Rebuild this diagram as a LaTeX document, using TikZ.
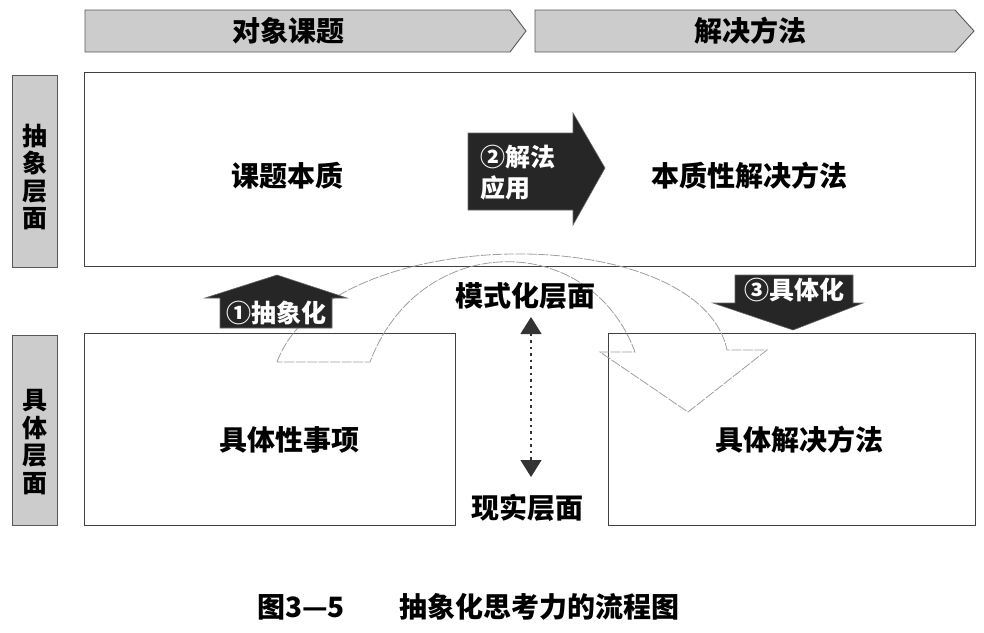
\documentclass[tikz,border=0pt]{standalone}
\usepackage{fontspec}
\setmainfont{Noto Sans CJK SC}
\usetikzlibrary{arrows.meta}
\tikzset{
  hdr/.style={fill=black!20, draw=black!65, line width=0.9pt},
  frame/.style={draw=black!75, line width=0.8pt, inner sep=0pt},
  darrow/.style={fill=black!85, draw=black!60, line width=0.6pt},
  ribbon/.style={draw=black!38, line width=0.8pt, dash pattern=on 10pt off 1.5pt},
  btxt/.style={font=\fontsize{28}{30}\selectfont\bfseries, inner sep=0pt},
  stxt/.style={font=\fontsize{25}{27.5}\selectfont\bfseries, align=center, inner sep=0pt},
  wtxt/.style={text=white, font=\fontsize{25}{31}\selectfont\bfseries, inner sep=0pt},
  vline/.style={draw=black!80, line width=1.2pt, dash pattern=on 2.5pt off 4pt,
     {Triangle[width=21pt,length=17pt]}-{Triangle[width=21pt,length=17pt]}}
}
\begin{document}
\begin{tikzpicture}[x=1pt,y=-1pt]
\useasboundingbox (0,0) rectangle (984,632);
% header arrows
\draw[hdr] (85,10) -- (510,10) -- (526,31) -- (510,52) -- (85,52) -- cycle;
\draw[hdr] (535,10) -- (955,10) -- (974,31) -- (955,52) -- (535,52) -- cycle;
\node[btxt] (h1) at (288,31) {对象课题};
\node[btxt] (h2) at (750,31) {解决方法};
% side labels
\node[hdr, minimum width=45pt, minimum height=192pt, inner sep=0pt] (sb1) at (34.5,171) {};
\node[stxt] (s1) at (34.5,177) {抽\\象\\层\\面};
\node[hdr, minimum width=45pt, minimum height=190pt, inner sep=0pt] (sb2) at (34.5,430) {};
\node[stxt] (s2) at (34.5,442) {具\\体\\层\\面};
% main boxes
\node[frame, minimum width=891pt, minimum height=194pt] (abs) at (529.5,169) {};
\node[frame, minimum width=371pt, minimum height=192pt] (con1) at (269.5,429) {};
\node[frame, minimum width=367pt, minimum height=192pt] (con2) at (791.5,429) {};
% ribbon arch
\draw[ribbon] (277,362) .. controls (330,220) and (700,220) .. (727,350)
   -- (767,350) -- (688,412) -- (600,352) -- (635,352)
   .. controls (590,230) and (420,230) .. (370,362) -- cycle;
% texts
\node[btxt] (t1) at (287,176) {课题本质};
\node[btxt] (t2) at (749,176) {本质性解决方法};
\node[btxt] (t3) at (289,440) {具体性事项};
\node[btxt] (t4) at (799,440) {具体解决方法};
\node[btxt] (t5) at (525,296) {模式化层面};
\node[btxt] (t6) at (527,508) {现实层面};
% vertical double arrow
\coordinate (va) at (531,317);
\coordinate (vb) at (531,477);
\draw[vline] (va) -- (vb);
% dark arrows
\draw[darrow] (220,328) -- (220,298) -- (205,298) -- (277,275) -- (347,298) -- (332,298) -- (332,328) -- cycle;
\node[wtxt] (a1) at (276,313) {①抽象化};
\draw[darrow] (468,133) -- (573,133) -- (573,113) -- (605,168) -- (573,225) -- (573,210) -- (468,210) -- cycle;
\node[wtxt, align=left, anchor=north west] (a2) at (480,145) {②解法\\应用};
\draw[darrow] (735,275) -- (853,275) -- (853,303) -- (863,303) -- (793,330) -- (713,303) -- (735,303) -- cycle;
\node[wtxt] (a3) at (794,290) {③具体化};
% caption
\node[btxt, anchor=west] (c1) at (257,607) {图3—5};
\node[btxt, anchor=west] (c2) at (399,607) {抽象化思考力的流程图};
\end{tikzpicture}
\end{document}
